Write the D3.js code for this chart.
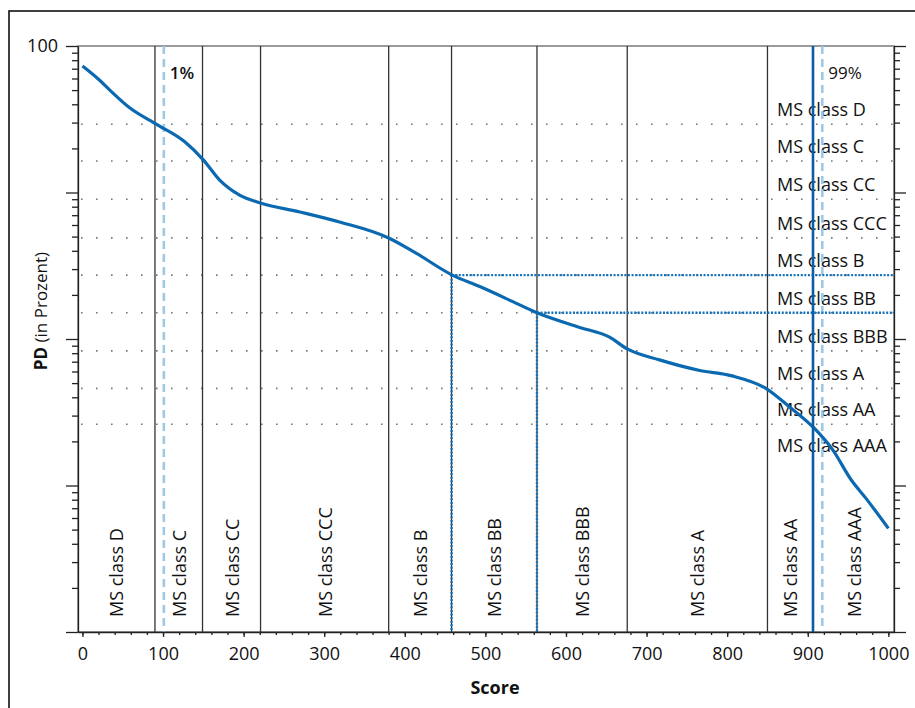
<!DOCTYPE html>
<html>
<head>
<meta charset="utf-8">
<title>PD by score</title>
<script src="https://cdn.jsdelivr.net/npm/d3@7"></script>
<style>
  body { margin: 0; background: #fff; }
  text { font-family: "Open Sans", sans-serif; fill: #111; }
</style>
</head>
<body>
<div id="chart"></div>
<script>
// values
var scores = [0, 21, 34, 59, 92, 127, 150, 170, 195, 220, 270, 319, 380, 414, 459, 493, 534, 564, 617, 654, 676, 716, 766, 806, 848, 877, 908, 931, 954, 972, 1000];
var pdValues = [73, 58.6, 50, 37.7, 29.2, 22.2, 16.7, 12.2, 9.6, 8.5, 7.36, 6.29, 4.89, 3.85, 2.73, 2.28, 1.80, 1.51, 1.20, 1.03, 0.855, 0.72, 0.61, 0.56, 0.46, 0.345, 0.246, 0.175, 0.109, 0.082, 0.051];

var classNames = ["MS class D", "MS class C", "MS class CC", "MS class CCC", "MS class B",
                  "MS class BB", "MS class BBB", "MS class A", "MS class AA", "MS class AAA"];
// score where one class ends and the next begins (last one is the blue line)
var scoreBounds = [90, 149, 221, 380, 458, 564, 676, 850, 906.5];
// PD where one class ends and the next begins
var pdBounds = [29.2, 16.4, 9.0, 4.9, 2.73, 1.51, 0.83, 0.46, 0.262];
// the BB class is framed with blue dotted lines
var markedBounds = [4, 5];

var pctLabels = ["1%", "99%"];
var pctScores = [101, 918];

var xTicks = [0, 100, 200, 300, 400, 500, 600, 700, 800, 900, 1000];
var yMajor = [100, 10, 1, 0.1, 0.01];

var W = 915, H = 708;
var pLeft = 78, pRight = 894, pTop = 46, pBottom = 632;

var svg = d3.select("#chart").append("svg")
    .attr("width", W)
    .attr("height", H);

var x = d3.scaleLinear().domain([-5.5, 1007]).range([pLeft, pRight]);
var y = d3.scaleLog().domain([0.01, 100]).range([pBottom, pTop]);

// outer frame
svg.append("rect")
    .attr("x", 9).attr("y", 11)
    .attr("width", 1000).attr("height", 800)
    .attr("fill", "none")
    .attr("stroke", "#111")
    .attr("stroke-width", 1.6);

// plot border
svg.append("rect")
    .attr("x", pLeft).attr("y", pTop)
    .attr("width", pRight - pLeft).attr("height", pBottom - pTop)
    .attr("fill", "none")
    .attr("stroke", "#666")
    .attr("stroke-width", 1.3);

// grey dotted lines at the class PD limits
svg.append("g")
  .selectAll("line")
  .data(pdBounds).enter()
  .append("line")
    .attr("x1", pLeft).attr("x2", pRight)
    .attr("y1", function(d) { return y(d); })
    .attr("y2", function(d) { return y(d); })
    .attr("stroke", "#777")
    .attr("stroke-width", 1.6)
    .attr("stroke-dasharray", "1.6,13.4")
    .attr("stroke-dashoffset", 12);

// class limits on the score axis
svg.append("g")
  .selectAll("line")
  .data(scoreBounds.slice(0, scoreBounds.length - 1)).enter()
  .append("line")
    .attr("x1", function(d) { return x(d); })
    .attr("x2", function(d) { return x(d); })
    .attr("y1", pTop).attr("y2", pBottom)
    .attr("stroke", "#333")
    .attr("stroke-width", 1.3);

// class names, rotated, one per score band
var edges = [x.domain()[0]].concat(scoreBounds, [x.domain()[1]]);
svg.append("g")
  .selectAll("text")
  .data(classNames).enter()
  .append("text")
    .attr("transform", function(d, i) {
      var cx = (x(edges[i]) + x(edges[i + 1])) / 2;
      return "translate(" + cx + ",617) rotate(-90)";
    })
    .attr("dominant-baseline", "central")
    .style("font-size", "18px")
    .text(function(d) { return d; });

// class names on the right, one per PD band
var step = y(pdBounds[pdBounds.length - 1]) - y(pdBounds[pdBounds.length - 2]);
svg.append("g")
  .selectAll("text")
  .data(classNames).enter()
  .append("text")
    .attr("x", 777)
    .attr("y", function(d, i) {
      var yb = i < pdBounds.length ? y(pdBounds[i]) : y(pdBounds[pdBounds.length - 1]) + step;
      return yb - 15;
    })
    .attr("dominant-baseline", "central")
    .style("font-size", "18px")
    .text(function(d) { return d; });

// percentile labels
svg.append("g")
  .selectAll("text")
  .data(pctLabels).enter()
  .append("text")
    .attr("x", function(d, i) { return x(pctScores[i]) + 6; })
    .attr("y", 72)
    .attr("dominant-baseline", "central")
    .style("font-size", "17px")
    .style("font-weight", function(d, i) { return i == 0 ? 600 : 400; })
    .text(function(d) { return d; });

// percentile lines
svg.append("g")
  .selectAll("line")
  .data(pctScores).enter()
  .append("line")
    .attr("x1", function(d) { return x(d); })
    .attr("x2", function(d) { return x(d); })
    .attr("y1", pTop).attr("y2", pBottom)
    .attr("stroke", "#9ec9e6")
    .attr("stroke-width", 2.6)
    .attr("stroke-dasharray", "8,5");

// blue dotted lines round the BB class
var mark = svg.append("g")
    .attr("stroke", "#1573bd")
    .attr("stroke-width", 2.4)
    .attr("stroke-dasharray", "2,1.6");
markedBounds.forEach(function(k) {
  mark.append("line")
    .attr("x1", x(scoreBounds[k])).attr("x2", pRight)
    .attr("y1", y(pdBounds[k])).attr("y2", y(pdBounds[k]));
  mark.append("line")
    .attr("x1", x(scoreBounds[k])).attr("x2", x(scoreBounds[k]))
    .attr("y1", y(pdBounds[k])).attr("y2", pBottom);
});

// the PD curve
var pts = scores.map(function(s, i) { return [s, pdValues[i]]; });
var line = d3.line()
    .x(function(d) { return x(d[0]); })
    .y(function(d) { return y(d[1]); })
    .curve(d3.curveMonotoneX);
svg.append("path")
    .datum(pts)
    .attr("d", line)
    .attr("fill", "none")
    .attr("stroke", "#0a69b1")
    .attr("stroke-width", 3.2)
    .attr("stroke-linejoin", "round");

// AA / AAA limit, solid blue
var lastB = scoreBounds[scoreBounds.length - 1];
svg.append("line")
    .attr("x1", x(lastB)).attr("x2", x(lastB))
    .attr("y1", pTop).attr("y2", pBottom)
    .attr("stroke", "#0b5ea4")
    .attr("stroke-width", 2.6);

// axes
var minorY = y.ticks().filter(function(d) { return yMajor.indexOf(d) < 0; });

function yAxis(axisFn, xpos, showLabels) {
  svg.append("g")
    .attr("transform", "translate(" + xpos + ",0)")
    .call(axisFn(y).tickValues(minorY).tickSize(6).tickSizeOuter(0).tickFormat(""))
    .call(function(g) { g.select(".domain").remove(); });
  svg.append("g")
    .attr("transform", "translate(" + xpos + ",0)")
    .call(axisFn(y).tickValues(yMajor).tickSize(12).tickSizeOuter(0).tickPadding(8)
      .tickFormat(function(d) { return showLabels && d == 100 ? "100" : ""; }));
}
yAxis(d3.axisLeft, pLeft, true);
yAxis(d3.axisRight, pRight, false);

svg.append("g")
    .attr("transform", "translate(0," + pBottom + ")")
    .call(d3.axisBottom(x).tickValues(d3.range(0, 1001, 20)).tickSize(3).tickSizeOuter(0).tickFormat(""))
    .call(function(g) { g.select(".domain").remove(); });
svg.append("g")
    .attr("transform", "translate(0," + pBottom + ")")
    .call(d3.axisBottom(x).tickValues(xTicks).tickSize(5).tickSizeOuter(0).tickPadding(10)
      .tickFormat(d3.format("d")));

svg.selectAll(".tick text")
    .style("font-family", "'Open Sans', sans-serif")
    .style("font-size", "18px")
    .attr("fill", "#111");
svg.selectAll(".domain, .tick line")
    .attr("stroke", "#222")
    .attr("stroke-width", 1.3);

// axis titles
svg.append("text")
    .attr("x", 495).attr("y", 694)
    .attr("text-anchor", "middle")
    .style("font-size", "18px")
    .style("font-weight", 700)
    .text("Score");

var yt = svg.append("text")
    .attr("transform", "translate(47,311) rotate(-90)")
    .attr("text-anchor", "middle")
    .style("font-size", "17px");
yt.append("tspan").style("font-weight", 700).text("PD");
yt.append("tspan").text(" (in Prozent)");
</script>
</body>
</html>
